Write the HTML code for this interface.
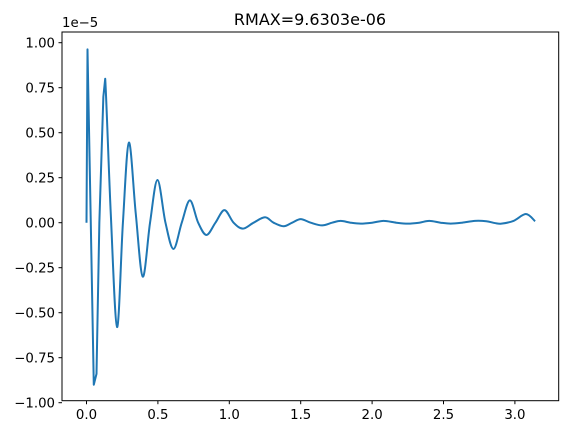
<!DOCTYPE html>
<html><head><meta charset="utf-8"><style>
body{margin:0;background:#fff}
svg text{font-family:"DejaVu Sans","Liberation Sans",sans-serif;font-size:13.3px;fill:#000}
</style></head><body>
<svg id="chart" width="568" height="435" viewBox="0 0 568 435" xmlns="http://www.w3.org/2000/svg">
<rect width="568" height="435" fill="#fff"/>
<text x="310" y="25" text-anchor="middle" style="font-size:16px">RMAX=9.6303e-06</text>
<text x="62" y="27">1e−5</text>
<g id="ticks"></g>
<path id="series" fill="none" stroke="#1f77b4" stroke-width="2" stroke-linejoin="round"/>
<rect x="62" y="32" width="496.7" height="368.7" fill="none" stroke="#000" stroke-width="1"/>
</svg>
<script>
const xData=[0,0.007,0.03,0.051,0.07,0.09,0.118,0.131,0.17,0.214,0.255,0.297,0.345,0.394,0.445,0.497,0.553,0.609,0.667,0.724,0.782,0.84,0.903,0.966,1.03,1.095,1.17,1.25,1.31,1.38,1.44,1.5,1.57,1.65,1.72,1.78,1.85,1.92,2.0,2.08,2.17,2.25,2.33,2.4,2.48,2.55,2.63,2.72,2.8,2.86,2.906,2.99,3.077,3.1416];
const yData=[0,0.963,0.0,-0.90,-0.84,0.0,0.70,0.80,0.05,-0.58,0.0,0.445,0.05,-0.30,0.0,0.237,0.0,-0.146,0.0,0.124,0.0,-0.068,0.0,0.07,0.0,-0.033,0.0,0.03,0.0,-0.02,0.0,0.02,0.0,-0.015,0.0,0.01,0.0,-0.005,0.0,0.01,0.0,-0.005,0.0,0.01,0.0,-0.005,0.0,0.01,0.008,-0.002,-0.005,0.01,0.048,0.008];
const xTicks=[0,0.5,1.0,1.5,2.0,2.5,3.0];
const xTickLabels=["0.0","0.5","1.0","1.5","2.0","2.5","3.0"];
const yTicks=[-1,-0.75,-0.5,-0.25,0,0.25,0.5,0.75,1];
const yTickLabels=["−1.00","−0.75","−0.50","−0.25","0.00","0.25","0.50","0.75","1.00"];
function sx(v){return 86.5+v*142.8;}
function sy(v){return 222.7-v*180;}
const NS="http://www.w3.org/2000/svg";
const g=document.getElementById('ticks');
xTicks.forEach((t,i)=>{
  const l=document.createElementNS(NS,'line');
  l.setAttribute('x1',sx(t));l.setAttribute('x2',sx(t));l.setAttribute('y1',400.7);l.setAttribute('y2',404.2);l.setAttribute('stroke','#000');
  
  
  g.appendChild(l);
  const tx=document.createElementNS(NS,'text');
  tx.setAttribute('x',sx(t));tx.setAttribute('y',419);tx.setAttribute('text-anchor','middle');tx.textContent=xTickLabels[i];
  
  
  g.appendChild(tx);
});
yTicks.forEach((t,i)=>{
  const l=document.createElementNS(NS,'line');
  l.setAttribute('x1',58.5);l.setAttribute('x2',62);l.setAttribute('y1',sy(t));l.setAttribute('y2',sy(t));l.setAttribute('stroke','#000');
  
  
  g.appendChild(l);
  const tx=document.createElementNS(NS,'text');
  tx.setAttribute('x',55);tx.setAttribute('y',sy(t)+4.8);tx.setAttribute('text-anchor','end');tx.textContent=yTickLabels[i];
  
  
  g.appendChild(tx);
});
const P=xData.map((x,i)=>[sx(x),sy(yData[i])]);
let d='M'+P[0][0]+','+P[0][1];
for(let i=0;i<P.length-1;i++){
  const p0=P[Math.max(0,i-1)],p1=P[i],p2=P[i+1],p3=P[Math.min(P.length-1,i+2)];
  if(xData[i+1]<=0.131){d+=' L'+p2[0]+','+p2[1];continue;}
  const c1=[p1[0]+(p2[0]-p0[0])/6,p1[1]+(p2[1]-p0[1])/6];
  const c2=[p2[0]-(p3[0]-p1[0])/6,p2[1]-(p3[1]-p1[1])/6];
  d+=' C'+c1[0]+','+c1[1]+' '+c2[0]+','+c2[1]+' '+p2[0]+','+p2[1];
}
document.getElementById('series').setAttribute('d',d);
</script>
</body></html>
